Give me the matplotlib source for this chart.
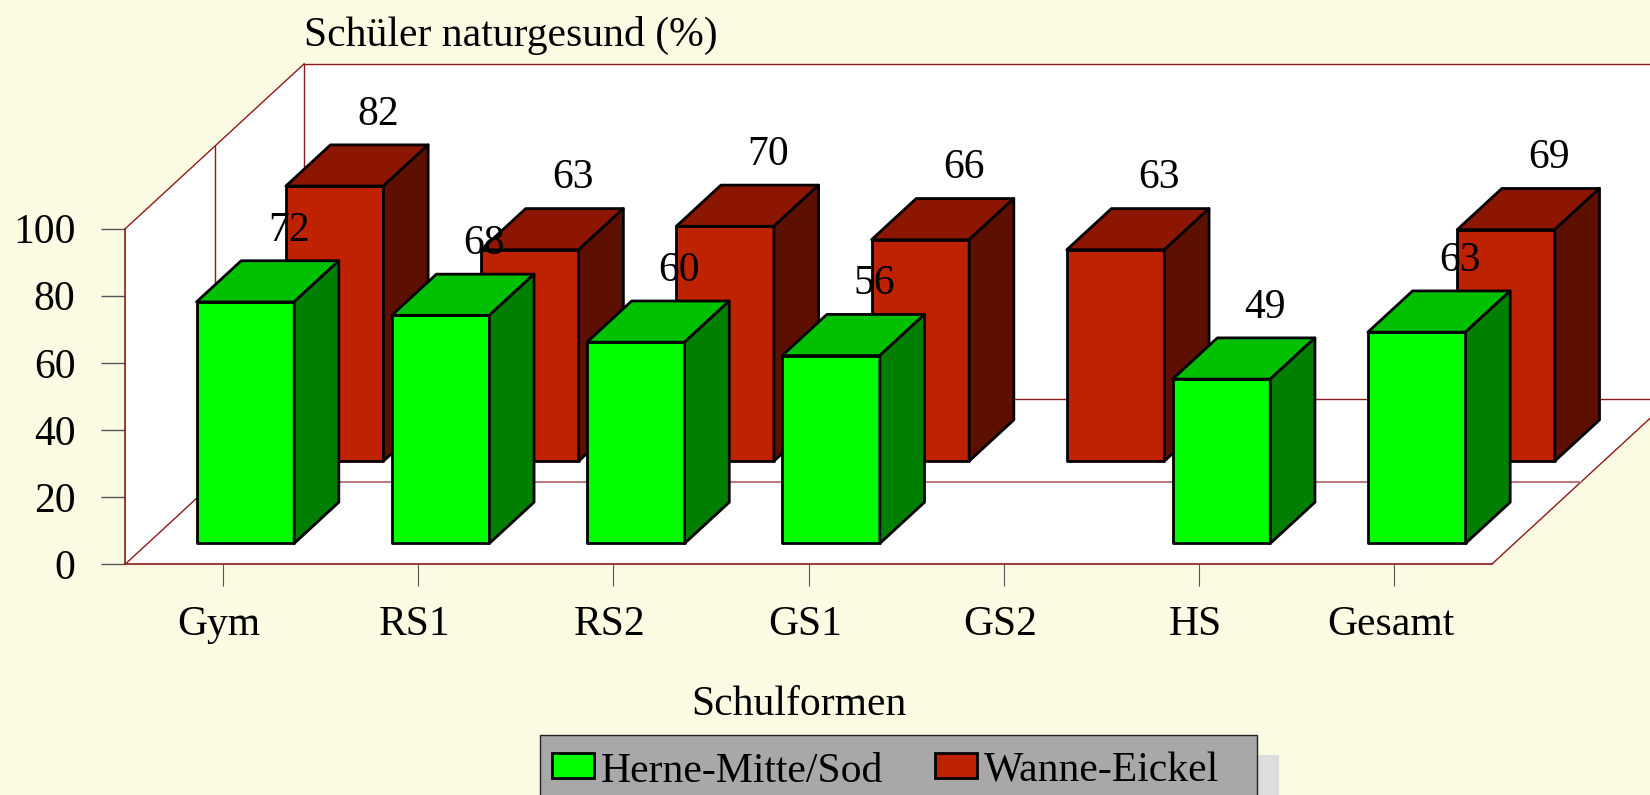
#!/usr/bin/env python
"""Oblique 3D bar chart: Schueler naturgesund, two districts per school type."""
import matplotlib

matplotlib.use("Agg")
import matplotlib.pyplot as plt
import numpy as np
from matplotlib.patches import Polygon, Rectangle
from matplotlib.transforms import ScaledTranslation

CATEGORIES = ["Gym", "RS1", "RS2", "GS1", "GS2", "HS", "Gesamt"]
HERNE = [72, 68, 60, 56, np.nan, 49, 63]
WANNE = [82, 63, 70, 66, 63, np.nan, 69]
Y_TICKS = [0, 20, 40, 60, 80, 100]
SERIES_NAMES = ["Herne-Mitte/Sod", "Wanne-Eickel"]

W, H = 1650, 795
BG = "#FBFBE3"
WALL_LINE = "#8B1A1A"
GREEN = ("#00FF00", "#00C000", "#007F00")
RED = ("#BF2200", "#8C1600", "#5E1000")

# full wall depth, in category units / value units
DEPTH_X = 178.7 / 195.3
DEPTH_Y = 49.1

plt.rcParams["font.family"] = ["Liberation Serif", "DejaVu Serif"]
FS = 30


def proj(x, y, z=0.0):
    return (x + z * DEPTH_X, y + z * DEPTH_Y)


def px(x, y):
    """Pixel position (from top left) to figure fraction."""
    return x / W, 1 - y / H


def wall_line(ax, a, b, lw=1.0, color=WALL_LINE):
    ax.plot([a[0], b[0]], [a[1], b[1]], color=color, lw=lw, clip_on=False, zorder=1.5)


def draw_bar(ax, i, value, z0, z1, colors):
    if np.isnan(value):
        return
    l, r = i - 0.25, i + 0.25
    faces = [
        ([proj(l, 0, z0), proj(r, 0, z0), proj(r, value, z0), proj(l, value, z0)], colors[0]),
        ([proj(l, value, z0), proj(r, value, z0), proj(r, value, z1), proj(l, value, z1)], colors[1]),
        ([proj(r, 0, z0), proj(r, 0, z1), proj(r, value, z1), proj(r, value, z0)], colors[2]),
    ]
    for pts, col in faces:
        ax.add_patch(Polygon(pts, closed=True, facecolor=col, edgecolor="black",
                             lw=2.0, joinstyle="round", clip_on=False, zorder=3))


fig = plt.figure(figsize=(W / 100, H / 100), dpi=100, facecolor=BG)
left, bottom = px(125.4, 564)
right, top = px(1492, 228.6)
ax = fig.add_axes([left, bottom, right - left, top - bottom])
ax.patch.set_visible(False)
n = len(CATEGORIES)
x_lo, x_hi = -0.5, n - 0.5
ax.set_xlim(x_lo, x_hi)
ax.set_ylim(0, 100)

# white walls and floor
ax.add_patch(Polygon(
    [proj(x_lo, 0), proj(x_lo, 100), proj(x_lo, 100, 1), proj(x_hi, 100, 1),
     proj(x_hi, 0, 1), proj(x_hi, 0)],
    closed=True, facecolor="white", edgecolor="none", clip_on=False, zorder=1))

wall_line(ax, proj(x_lo, 100), proj(x_lo, 100, 1))
wall_line(ax, proj(x_lo, 100, 1), proj(x_hi, 100, 1))
wall_line(ax, proj(x_lo, 100, 1), proj(x_lo, 0, 1))
wall_line(ax, proj(x_lo, 0, 1), proj(x_hi, 0, 1))
wall_line(ax, proj(x_lo, 0), proj(x_lo, 0, 1))
wall_line(ax, proj(x_hi, 0), proj(x_hi, 0, 1))
wall_line(ax, proj(x_lo, 100, 0.5), proj(x_lo, 0, 0.5))
wall_line(ax, proj(x_lo, 0, 0.5), proj(x_hi, 0, 0.5), lw=1.4, color="#B87878")

for spine in ("top", "right"):
    ax.spines[spine].set_visible(False)
for spine in ("left", "bottom"):
    ax.spines[spine].set_color(WALL_LINE)
    ax.spines[spine].set_linewidth(1.2)
    ax.spines[spine].set_zorder(2)

ax.set_xticks(range(n), CATEGORIES)
ax.set_yticks(Y_TICKS)
ax.tick_params(axis="x", length=15.5, width=0.8, color="#555555", labelsize=FS, pad=14.5)
ax.tick_params(axis="y", length=17, width=1.0, color="#555555", labelsize=FS, pad=19)

# x labels sit a little left of their ticks in the original
shift = ScaledTranslation(-4 / 100, 0, fig.dpi_scale_trans)
for label in ax.get_xticklabels():
    label.set_transform(label.get_transform() + shift)

for i, v in enumerate(WANNE):
    draw_bar(ax, i, v, 0.625, 0.875, RED)
for i, v in enumerate(HERNE):
    draw_bar(ax, i, v, 0.125, 0.375, GREEN)

# value labels sit above the back edge of each bar top
for vals, z in ((WANNE, 0.875), (HERNE, 0.375)):
    for i, v in enumerate(vals):
        if np.isnan(v):
            continue
        lx, ly = proj(i, v, z)
        ax.annotate(f"{v:.0f}", (lx, ly),
                    xytext=(-1, 14.5), textcoords="offset points", ha="center",
                    va="baseline", fontsize=FS, zorder=5, annotation_clip=False)

fig.text(*px(304, 46), "Schüler naturgesund (%)", fontsize=FS, ha="left", va="baseline")
fig.text(*px(799, 715), "Schulformen", fontsize=FS, ha="center", va="baseline")

# legend, runs off the bottom of the page like the original
def fig_rect(x0, y0, x1, y1, **kw):
    fx0, fy1 = px(x0, y1)
    fx1, fy0 = px(x1, y0)
    fig.add_artist(Rectangle((fx0, fy1), fx1 - fx0, fy0 - fy1, transform=fig.transFigure, **kw))


fig_rect(560, 755, 1279, 800, facecolor="#DDDDDD", edgecolor="none")
fig_rect(540, 735, 1257, 800, facecolor="#A8A8A8", edgecolor="#222222", lw=1.0)
fig_rect(552, 753, 594, 778, facecolor=GREEN[0], edgecolor="black", lw=2.0)
fig_rect(935, 753, 977, 778, facecolor=RED[0], edgecolor="black", lw=2.0)
fig.text(*px(600.5, 782), SERIES_NAMES[0], fontsize=FS, ha="left", va="baseline")
fig.text(*px(984, 782), SERIES_NAMES[1], fontsize=FS, ha="left", va="baseline")

fig.savefig("out.png", dpi=100, facecolor=BG)
plt.close(fig)
